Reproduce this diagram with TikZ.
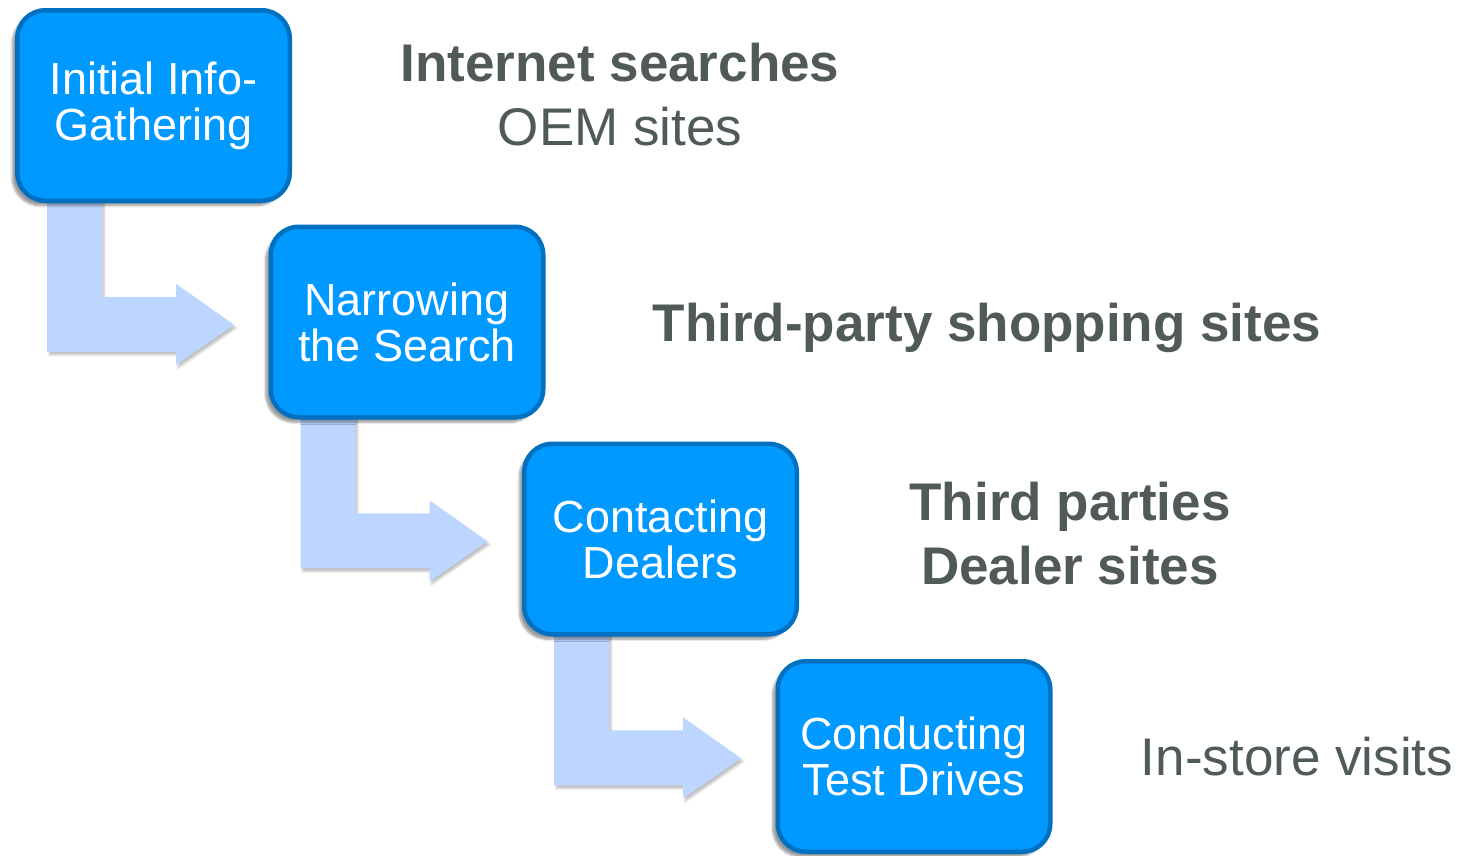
\documentclass[tikz,border=0pt]{standalone}
\usepackage{fontspec}
\setmainfont{Liberation Sans}
\usetikzlibrary{shadows.blur}
\definecolor{boxfill}{HTML}{0099FF}
\definecolor{boxline}{HTML}{0070C0}
\definecolor{arrowfill}{HTML}{BDD6FF}
\definecolor{txt}{HTML}{505A56}
\begin{document}
\begin{tikzpicture}[x=1pt,y=-1pt,
  stepbox/.style={draw=boxline, line width=4.5pt, fill=boxfill, rounded corners=28pt,
    minimum width=272.5pt, minimum height=190.5pt, inner sep=0pt, text=white, align=center,
    font=\fontsize{45}{46}\selectfont,
    blur shadow={shadow xshift=-5pt, shadow yshift=-5pt, shadow blur steps=8, shadow opacity=40}},
  bentarrow/.style={fill=arrowfill,
    blur shadow={shadow xshift=2pt, shadow yshift=-3pt, shadow blur steps=5, shadow opacity=25}},
  sidetext/.style={text=txt, align=center, anchor=base, inner sep=0pt,
    font=\fontsize{53}{64}\selectfont}]
\useasboundingbox (0,0) rectangle (1464,855);
\coordinate (c1) at (153.5,105.5);
\coordinate (c2) at (407,322);
\coordinate (c3) at (660.5,539);
\coordinate (c4) at (914,756.5);
\path (c1) node[minimum width=272.5pt, minimum height=190.5pt, inner sep=0pt] (g1) {};
\path (c2) node[minimum width=272.5pt, minimum height=190.5pt, inner sep=0pt] (g2) {};
\path (c3) node[minimum width=272.5pt, minimum height=190.5pt, inner sep=0pt] (g3) {};
% bent arrows, anchored to the box above them
\foreach \g in {g1,g2,g3}{
  \begin{scope}[shift={(\g.south west)}]
    \fill[bentarrow] (30,-8) -- (85,-8) -- (85,96) -- (159,96) -- (159,83) -- (217,124)
      -- (159,164) -- (159,151) -- (30,151) -- cycle;
  \end{scope}
}
\node[stepbox] (b1) at (c1) {Initial Info-\\Gathering};
\node[stepbox] (b2) at (c2) {Narrowing\\the Search};
\node[stepbox] (b3) at (c3) {Contacting\\Dealers};
\node[stepbox] (b4) at (c4) {Conducting\\Test Drives};
% side texts (base anchor = last line's baseline)
\node[sidetext] (t1) at (620,145) {\textbf{Internet searches}\\OEM sites};
\node[sidetext] (t2) at (987,341) {\textbf{Third-party shopping sites}};
\node[sidetext] (t3) at (1070,584) {\textbf{Third parties}\\\textbf{Dealer sites}};
\node[sidetext] (t4) at (1297,775) {In-store visits};
\end{tikzpicture}
\end{document}
